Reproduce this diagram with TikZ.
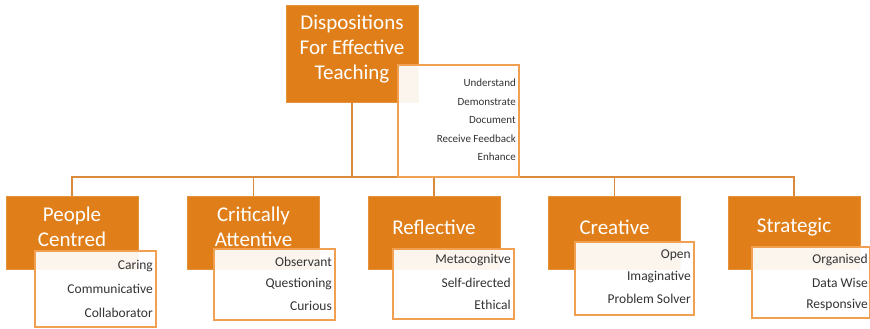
\documentclass[tikz,border=0pt]{standalone}
\usepackage{fontspec}
\setmainfont{Carlito}
\definecolor{orangebox}{HTML}{E07F1A}
\definecolor{orangeline}{HTML}{D98A3C}
\definecolor{subborder}{HTML}{F0A050}
\definecolor{subtext}{HTML}{333333}
\begin{document}
\begin{tikzpicture}[x=1pt,y=-1pt,
  mainbox/.style={draw=orangebox!85!white,line width=0.8pt,fill=orangebox,
    minimum width=132pt,minimum height=#1,inner sep=0pt},
  mainbox/.default=73pt,
  boxlabel/.style={text=white,inner sep=0pt,align=center,font=\fontsize{21}{25}\selectfont},
  subbox/.style={draw=subborder,line width=1.5pt,fill=white,fill opacity=0.93,text opacity=1,inner sep=0pt},
  item/.style={anchor=east,text=subtext,inner sep=0pt,font=\fontsize{13.5}{14}\selectfont},
  smallitem/.style={anchor=east,text=subtext,inner sep=0pt,font=\fontsize{11}{12}\selectfont},
  link/.style={draw=orangeline,line width=1.3pt}]
\useasboundingbox (0,0) rectangle (870,329);
\clip (0,0) rectangle (870,329);

% top
\node[mainbox=97pt] (top) at (352,53.5) {};
\node[boxlabel] (topl) at (352,49) {Dispositions\\For Effective\\Teaching};

% bottom boxes
\node[mainbox] (b1) at (72,232.5) {};
\node[mainbox] (b2) at (253.5,232.5) {};
\node[mainbox] (b3) at (434,232.5) {};
\node[mainbox] (b4) at (614.5,232.5) {};
\node[mainbox] (b5) at (794,232.5) {};
\node[boxlabel] (b1l) at (72,227) {People\\Centred};
\node[boxlabel] (b2l) at (253.5,227) {Critically\\Attentive};
\node[boxlabel] (b3l) at (434,227) {Reflective};
\node[boxlabel] (b4l) at (614.5,227) {Creative};
\node[boxlabel] (b5l) at (794,227) {Strategic};

% connectors
\coordinate (bus) at (0,177);
\draw[link] (top.south) -- (top.south |- bus);
\draw[link] (b1.north) -- (b1.north |- bus) -- (b5.north |- bus) -- (b5.north);
\draw[link] (b2.north) -- (b2.north |- bus);
\draw[link] (b3.north) -- (b3.north |- bus);
\draw[link] (b4.north) -- (b4.north |- bus);

% top sub box
\node[subbox,minimum width=121pt,minimum height=112pt] (topsub) at (458.5,121) {};
\node[smallitem] (t1) at (516,83) {Understand};
\node[smallitem] (t2) at (516,102) {Demonstrate};
\node[smallitem] (t3) at (516,120) {Document};
\node[smallitem] (t4) at (516,138.5) {Receive Feedback};
\node[smallitem] (t5) at (516,157) {Enhance};

% sub boxes
\node[subbox,minimum width=121pt,minimum height=76pt] (s1) at (95.5,289) {};
\node[item] (s1a) at (153,266) {Caring};
\node[item] (s1b) at (153,289) {Communicative};
\node[item] (s1c) at (153,313) {Collaborator};

\node[subbox,minimum width=121pt,minimum height=71pt] (s2) at (274.5,284.5) {};
\node[item] (s2a) at (332,262) {Observant};
\node[item] (s2b) at (332,284) {Questioning};
\node[item] (s2c) at (332,306) {Curious};

\node[subbox,minimum width=121pt,minimum height=70pt] (s3) at (453.5,284) {};
\node[item] (s3a) at (511,260) {Metacognitve};
\node[item] (s3b) at (511,283) {Self-directed};
\node[item] (s3c) at (511,305) {Ethical};

\node[subbox,minimum width=119pt,minimum height=73pt] (s4) at (634.5,278.5) {};
\node[item] (s4a) at (691,255) {Open};
\node[item] (s4b) at (691,277) {Imaginative};
\node[item] (s4c) at (691,299) {Problem Solver};

\node[subbox,minimum width=118pt,minimum height=71pt] (s5) at (811,282.5) {};
\node[item] (s5a) at (868,260) {Organised};
\node[item] (s5b) at (868,283) {Data Wise};
\node[item] (s5c) at (868,305) {Responsive};
\end{tikzpicture}
\end{document}
